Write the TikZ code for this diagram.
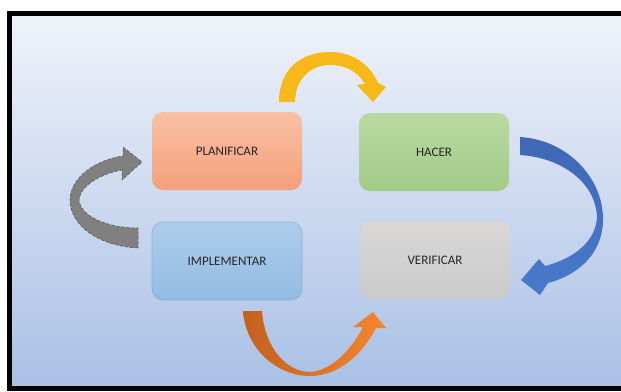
\documentclass[tikz,border=0pt]{standalone}
\usepackage{fontspec}
\setmainfont{Carlito}
\definecolor{bgtop}{HTML}{F0F3FA}
\definecolor{bgbot}{HTML}{A9C0E5}
\definecolor{plantop}{HTML}{F9C0A3}
\definecolor{planbot}{HTML}{F3A07C}
\definecolor{hactop}{HTML}{B8DAA2}
\definecolor{hacbot}{HTML}{A2CB87}
\definecolor{imptop}{HTML}{ADCDEB}
\definecolor{impbot}{HTML}{93BBE3}
\definecolor{vertop}{HTML}{D9D8D7}
\definecolor{verbot}{HTML}{CBCBCB}
\definecolor{txt}{HTML}{262626}
\definecolor{yel}{HTML}{F7B818}
\definecolor{bluA}{HTML}{3F68B5}
\definecolor{bluB}{HTML}{4A79CC}
\definecolor{oraA}{HTML}{C2611F}
\definecolor{oraB}{HTML}{F7852F}
\definecolor{gry}{HTML}{808080}
\begin{document}
\begin{tikzpicture}[x=1pt,y=-1pt,
  stage/.style={rounded corners=11pt,minimum width=150pt,minimum height=78pt,
    inner sep=0pt,font=\fontsize{13}{15}\selectfont,text=txt}]
\useasboundingbox (0,0) rectangle (621,391);
\clip (0,0) rectangle (621,391);
\fill[white] (0,0) rectangle (621,391);
% background panel
\shade[top color=bgtop,bottom color=bgbot] (9,13) rectangle (640,388);
\draw[line width=5pt,black] (9.5,13.5) -- (640,13.5);
\draw[line width=5pt,black] (9.5,11) -- (9.5,388) -- (640,388);
% stages
\node[stage,top color=plantop,bottom color=planbot] (plan) at (227,151) {PLANIFICAR};
\node[stage,top color=hactop,bottom color=hacbot] (hacer) at (434,152) {HACER};
\node[stage,top color=imptop,bottom color=impbot,draw=impbot!85!black!60!imptop,line width=0.6pt] (impl) at (227,261) {IMPLEMENTAR};
\node[stage,top color=vertop,bottom color=verbot] (verif) at (435,260) {VERIFICAR};
% yellow arrow: PLANIFICAR -> HACER
\fill[yel] (279,102) .. controls (279,70) and (300,52) .. (330,52)
  .. controls (352,52) and (370,64) .. (378,83) -- (386,87) -- (373,102) -- (357,85)
  -- (365,84) .. controls (358,72) and (346,65) .. (330,65)
  .. controls (310,65) and (295,80) .. (295,102) -- cycle;
% blue arrow: HACER -> VERIFICAR
\shade[top color=bluA,bottom color=bluB] (520,137) .. controls (568,140) and (602,178) .. (603,217)
  .. controls (604,250) and (582,274) .. (548,283) -- (540,295) -- (521,280) -- (539,259)
  -- (545,266) .. controls (576,258) and (596,240) .. (597,217)
  .. controls (596,185) and (565,158) .. (520,155) -- cycle;
% orange arrow: IMPLEMENTAR -> VERIFICAR
\shade[left color=oraA,right color=oraB] (243,311) .. controls (246,350) and (278,376) .. (310,376)
  .. controls (338,376) and (362,355) .. (376,328) -- (386,328) -- (373,312) -- (353,327)
  -- (363,327) .. controls (350,352) and (330,371) .. (310,372)
  .. controls (288,372) and (265,350) .. (262,311) -- cycle;
% gray arrow: IMPLEMENTAR -> PLANIFICAR
\filldraw[fill=gry,draw=gry!60!black,line width=0.5pt,densely dashed]
  (138,248) .. controls (98,246) and (70,225) .. (70,200)
  .. controls (70,178) and (95,160) .. (123,156) -- (123,147) -- (142,162) -- (122,180)
  -- (122,170) .. controls (100,174) and (80,186) .. (79,200)
  .. controls (80,215) and (105,228) .. (138,228) -- cycle;
\end{tikzpicture}
\end{document}
